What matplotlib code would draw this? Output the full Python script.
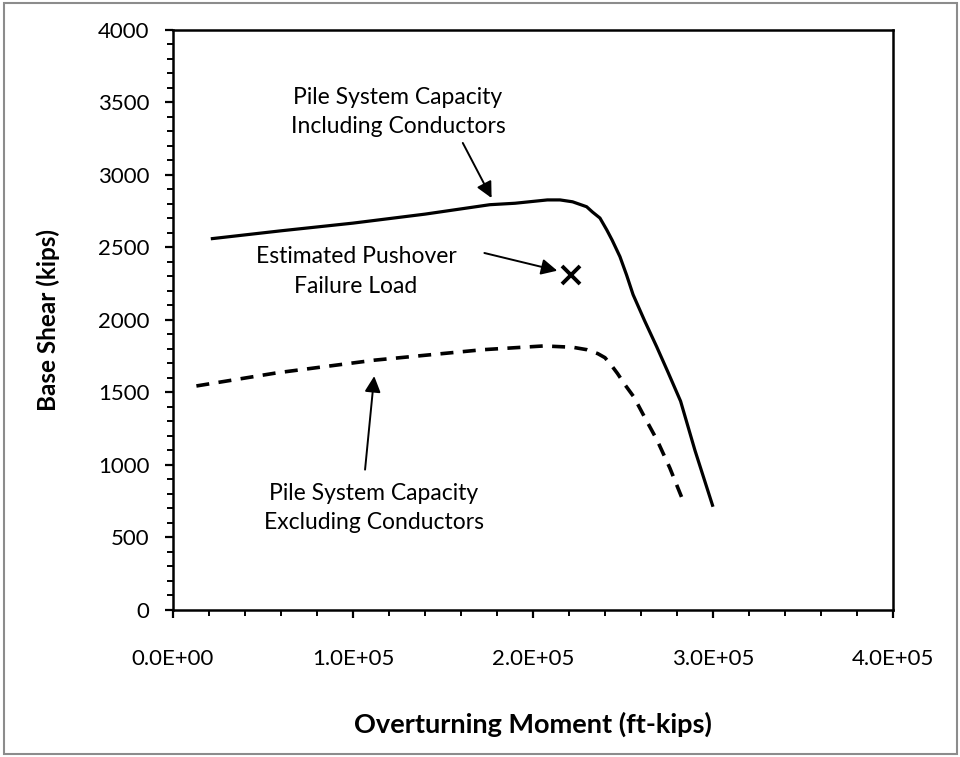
import matplotlib
matplotlib.use('Agg')
import matplotlib.pyplot as plt
from matplotlib.patches import Rectangle
from matplotlib.ticker import MultipleLocator, FuncFormatter

plt.rcParams['font.family'] = ['Lato', 'DejaVu Sans']

# Pile system capacity including conductors
incl_moment = [21000, 60000, 100000, 140000, 176000, 190000, 208000, 215000,
               222000, 229800, 233000, 237200, 241000, 244000, 248300, 252000,
               255600, 262000, 268700, 275000, 282000, 290000, 300000]
incl_shear = [2560, 2615, 2668, 2730, 2795, 2805, 2828, 2828,
              2815, 2781, 2745, 2703, 2621, 2550, 2437, 2310,
              2175, 1995, 1816, 1640, 1440, 1100, 712]

# Pile system capacity excluding conductors
excl_moment = [13000, 58000, 112000, 172000, 206000, 222000, 230000, 236000,
               240000, 244000, 247000, 251000, 256000, 262000, 269000,
               276000, 283000]
excl_shear = [1545, 1636, 1723, 1795, 1821, 1812, 1795, 1768,
              1740, 1680, 1630, 1555, 1470, 1330, 1170,
              980, 765]

# Estimated pushover failure load
push_moment = 221000
push_shear = 2310

fig = plt.figure(figsize=(9.6, 7.57), dpi=100)
ax = fig.add_axes([0.1802, 0.1942, 0.75, 0.7662])

ax.plot(incl_moment, incl_shear, color='black', lw=2.3,
        solid_capstyle='butt', solid_joinstyle='round')
ax.plot(excl_moment, excl_shear, color='black', lw=2.6,
        linestyle=(0, (3.6, 2.6)), dash_capstyle='butt',
        dash_joinstyle='round')
ax.plot([push_moment], [push_shear], marker='x', color='black',
        markersize=13, mew=2.8)

ax.set_xlim(0, 400000)
ax.set_ylim(0, 4000)
ax.xaxis.set_major_locator(MultipleLocator(100000))
ax.xaxis.set_minor_locator(MultipleLocator(20000))
ax.yaxis.set_major_locator(MultipleLocator(500))
ax.yaxis.set_minor_locator(MultipleLocator(100))
ax.xaxis.set_major_formatter(FuncFormatter(lambda v, p: '{:.1E}'.format(v)))

for sp in ax.spines.values():
    sp.set_linewidth(1.8)
ax.tick_params(which='major', direction='out', length=6, width=1.6,
               labelsize=16)
ax.tick_params(which='minor', direction='out', length=4, width=1.4)
ax.tick_params(axis='x', which='major', pad=22)
ax.tick_params(axis='y', which='major', pad=11)

ax.set_xlabel('Overturning Moment (ft-kips)', fontsize=19.5, fontweight='bold')
ax.set_ylabel('Base Shear (kips)', fontsize=17.5, fontweight='bold')
ax.xaxis.set_label_coords(0.5, -0.176)
ax.yaxis.set_label_coords(-0.157, 0.5)

arrow = dict(arrowstyle='-|>', color='black', lw=1.4, mutation_scale=24,
             shrinkA=0, shrinkB=0)

ax.text(125000, 3434, 'Pile System Capacity\nIncluding Conductors',
        ha='center', va='center', fontsize=16.5, linespacing=1.5)
ax.annotate('', xy=(177000, 2841), xytext=(161000, 3221), arrowprops=arrow)

ax.text(101700, 2334, 'Estimated Pushover\nFailure Load',
        ha='center', va='center', fontsize=16.5, linespacing=1.5)
ax.annotate('', xy=(213500, 2340), xytext=(173000, 2462), arrowprops=arrow)

ax.text(111700, 703, 'Pile System Capacity\nExcluding Conductors',
        ha='center', va='center', fontsize=16.5, linespacing=1.5)
ax.annotate('', xy=(111800, 1613), xytext=(106700, 968), arrowprops=arrow)

# thin grey frame round the whole chart
fig.patches.append(Rectangle((0.004, 0.004), 0.993, 0.992,
                             transform=fig.transFigure, fill=False,
                             edgecolor='#8c8c8c', lw=1.5))

fig.savefig('out.png', dpi=100)
